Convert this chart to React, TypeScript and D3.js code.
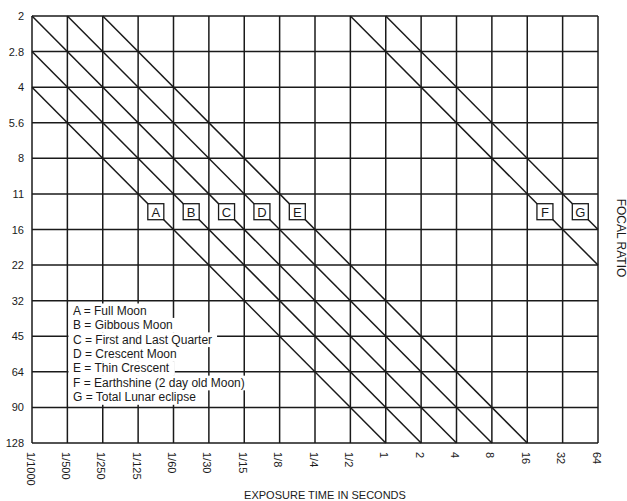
import React, { useEffect, useRef } from "react";
import * as d3 from "d3";

// Exposure times along the bottom (each step doubles the exposure)
const exposures = [
  "1/1000", "1/500", "1/250", "1/125", "1/60", "1/30", "1/15", "1/8",
  "1/4", "1/2", "1", "2", "4", "8", "16", "32", "64",
];

// Focal ratios down the side (each step halves the light)
const focalRatios = ["2", "2.8", "4", "5.6", "8", "11", "16", "22", "32", "45", "64", "90", "128"];

// Equal-exposure lines: [exposure, focal ratio] at each end
const diagonals = [
  { id: "A", from: ["1/1000", "4"], to: ["1", "128"] },
  { id: "B", from: ["1/1000", "2.8"], to: ["2", "128"] },
  { id: "C", from: ["1/1000", "2"], to: ["4", "128"] },
  { id: "D", from: ["1/500", "2"], to: ["8", "128"] },
  { id: "E", from: ["1/250", "2"], to: ["16", "128"] },
  { id: "F", from: ["1/2", "2"], to: ["64", "22"] },
  { id: "G", from: ["1", "2"], to: ["64", "16"] },
];

// Focal-ratio band in which the letter tags sit
const tagBand = ["11", "16"];

const legendEntries = [
  "A = Full Moon",
  "B = Gibbous Moon",
  "C = First and Last Quarter",
  "D = Crescent Moon",
  "E = Thin Crescent",
  "F = Earthshine (2 day old Moon)",
  "G = Total Lunar eclipse",
];

const W = 627;
const H = 501;
const FONT = "'Liberation Sans', Arial, Helvetica, sans-serif";
const INK = "#1a1a1a";

export default function App() {
  const ref = useRef<SVGSVGElement | null>(null);

  useEffect(() => {
    const svg = d3.select(ref.current);
    svg.selectAll("*").remove();

    const left = 32, right = 598, top = 16, bottom = 443;
    const x = d3.scalePoint<string>().domain(exposures).range([left, right]);
    const y = d3.scalePoint<string>().domain(focalRatios).range([top, bottom]);

    svg.append("rect").attr("width", W).attr("height", H).attr("fill", "#fff");

    const grid = svg.append("g").attr("stroke", INK).attr("stroke-width", 1.5);

    grid.selectAll("line.v")
      .data(exposures)
      .join("line")
      .attr("class", "v")
      .attr("x1", (d) => x(d)!)
      .attr("x2", (d) => x(d)!)
      .attr("y1", top)
      .attr("y2", bottom);

    grid.selectAll("line.h")
      .data(focalRatios)
      .join("line")
      .attr("class", "h")
      .attr("x1", left)
      .attr("x2", right)
      .attr("y1", (d) => y(d)!)
      .attr("y2", (d) => y(d)!);

    grid.selectAll("line.d")
      .data(diagonals)
      .join("line")
      .attr("class", "d")
      .attr("x1", (d) => x(d.from[0])!)
      .attr("y1", (d) => y(d.from[1])!)
      .attr("x2", (d) => x(d.to[0])!)
      .attr("y2", (d) => y(d.to[1])!);

    // Letter tags on each line, midway through the f/11–f/16 band
    const yTag = (y(tagBand[0])! + y(tagBand[1])!) / 2;
    const tags = svg.append("g");
    diagonals.forEach((d) => {
      const x1 = x(d.from[0])!, y1 = y(d.from[1])!;
      const x2 = x(d.to[0])!, y2 = y(d.to[1])!;
      const xt = x1 + ((yTag - y1) * (x2 - x1)) / (y2 - y1);
      const s = 16;
      tags.append("rect")
        .attr("x", xt - s / 2)
        .attr("y", yTag - s / 2)
        .attr("width", s)
        .attr("height", s)
        .attr("fill", "#fff")
        .attr("stroke", INK)
        .attr("stroke-width", 1.3);
      tags.append("text")
        .attr("x", xt)
        .attr("y", yTag + 0.5)
        .attr("text-anchor", "middle")
        .attr("dominant-baseline", "central")
        .attr("font-family", FONT)
        .attr("font-size", 13)
        .attr("fill", INK)
        .text(d.id);
    });

    // Key, each line on its own white backing
    const legend = svg.append("g");
    const backs = legend.append("g");
    const lx = 73, ly = 310.7, lh = 14.43;
    const texts = legend.selectAll("text")
      .data(legendEntries)
      .join("text")
      .attr("x", lx)
      .attr("y", (_, i) => ly + i * lh)
      .attr("dominant-baseline", "central")
      .attr("font-family", FONT)
      .attr("font-size", 12)
      .attr("fill", INK)
      .text((d) => d);
    texts.each(function (_, i) {
      const bb = (this as SVGTextElement).getBBox();
      backs.append("rect")
        .attr("x", 68.5)
        .attr("y", ly + i * lh - lh / 2)
        .attr("width", bb.x + bb.width + 5 - 68.5)
        .attr("height", lh + 0.3)
        .attr("fill", "#fff");
    });

    // Focal ratio labels
    svg.append("g")
      .selectAll("text")
      .data(focalRatios)
      .join("text")
      .attr("x", 24)
      .attr("y", (d) => y(d)!)
      .attr("text-anchor", "end")
      .attr("dominant-baseline", "central")
      .attr("font-family", FONT)
      .attr("font-size", 11)
      .attr("fill", INK)
      .text((d) => d);

    // Exposure labels, turned to read downwards
    svg.append("g")
      .selectAll("text")
      .data(exposures)
      .join("text")
      .attr("transform", (d) => `translate(${x(d)! - 1.5},${bottom + 9}) rotate(90)`)
      .attr("text-anchor", "start")
      .attr("dominant-baseline", "central")
      .attr("font-family", FONT)
      .attr("font-size", 11)
      .attr("fill", INK)
      .text((d) => d);

    svg.append("text")
      .attr("x", 325)
      .attr("y", 495)
      .attr("text-anchor", "middle")
      .attr("dominant-baseline", "central")
      .attr("font-family", FONT)
      .attr("font-size", 11)
      .attr("fill", INK)
      .text("EXPOSURE TIME IN SECONDS");

    svg.append("text")
      .attr("transform", `translate(621,238) rotate(90)`)
      .attr("text-anchor", "middle")
      .attr("dominant-baseline", "central")
      .attr("font-family", FONT)
      .attr("font-size", 12)
      .attr("fill", INK)
      .text("FOCAL RATIO");
  }, []);

  return (
    <div style={{ position: "absolute", left: 0, top: 0 }}>
      <svg ref={ref} width={W} height={H} style={{ display: "block" }} />
    </div>
  );
}
